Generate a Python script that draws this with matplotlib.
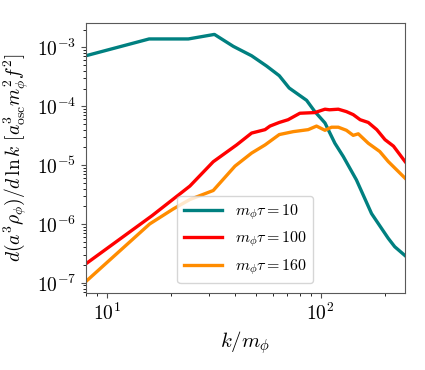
import numpy as np
import matplotlib
matplotlib.use('Agg')
import matplotlib.pyplot as plt

plt.rcParams['mathtext.fontset'] = 'cm'
plt.rcParams['font.family'] = 'serif'
plt.rcParams['font.serif'] = ['cmr10', 'DejaVu Serif']
plt.rcParams['axes.formatter.use_mathtext'] = True

# data
k_10 = [8.0, 15.8, 24.1, 31.9, 39.1, 47.6, 56, 64.1, 71.3, 86, 94, 104.8,
        116.6, 127.6, 147, 173, 207, 222, 248]
rho_10 = [7.2e-4, 1.39e-3, 1.39e-3, 1.66e-3, 1.04e-3, 7.2e-4, 4.8e-4, 3.3e-4,
          2.04e-4, 1.26e-4, 8.1e-5, 5.2e-5, 2.35e-5, 1.4e-5, 5.6e-6, 1.5e-6,
          5.7e-7, 4.1e-7, 2.9e-7]

k_100 = [8.0, 16.3, 24.5, 31.5, 40.5, 47.6, 55, 58, 64.1, 70.5, 80, 94, 104.8,
         110, 121, 132, 142, 153, 167, 183, 200, 219, 248]
rho_100 = [2.1e-7, 1.38e-6, 4.4e-6, 1.14e-5, 2.2e-5, 3.5e-5, 4.0e-5, 4.6e-5,
           5.3e-5, 5.9e-5, 7.6e-5, 7.8e-5, 8.9e-5, 8.7e-5, 8.9e-5, 8.1e-5,
           7.2e-5, 5.9e-5, 5.3e-5, 4.0e-5, 2.7e-5, 2.1e-5, 1.15e-5]

k_160 = [8.0, 15.9, 20.5, 24.5, 31.5, 39.8, 47.6, 55, 64.1, 74.5, 87.5, 95.7,
         104.8, 112.5, 121, 132, 142, 150, 167, 189, 207, 248]
rho_160 = [1.05e-7, 1.0e-6, 1.8e-6, 2.6e-6, 3.7e-6, 9.6e-6, 1.6e-5, 2.2e-5,
           3.3e-5, 3.7e-5, 4.0e-5, 4.6e-5, 3.9e-5, 4.4e-5, 4.4e-5, 3.9e-5,
           3.2e-5, 3.4e-5, 2.35e-5, 1.7e-5, 1.15e-5, 6.0e-6]

fig = plt.figure(figsize=(4.25, 3.7), dpi=100)
ax = fig.add_axes([0.202, 0.208, 0.751, 0.730])

ax.plot(k_10, rho_10, color='#008080', lw=2.4, label=r'$m_\phi\tau=10$')
ax.plot(k_100, rho_100, color='red', lw=2.4, label=r'$m_\phi\tau=100$')
ax.plot(k_160, rho_160, color='darkorange', lw=2.4, label=r'$m_\phi\tau=160$')

ax.set_xscale('log')
ax.set_yscale('log')
ax.set_xlim(8.0, 248)
ax.set_ylim(6.7e-8, 2.6e-3)

ax.set_xlabel(r'$k/m_\phi$', fontsize=15)
ax.set_ylabel(r'$d(a^3\rho_\phi)/d\,\ln k\ [a_{\rm osc}^3 m_\phi^2 f^2]$', fontsize=14)
ax.tick_params(labelsize=14, colors='0.3', labelcolor='black')
for s in ax.spines.values():
    s.set_color('0.35')

ax.legend(loc='lower center', fontsize=11.5, handlelength=2.4,
          borderaxespad=0.6)

fig.savefig('out.png', dpi=100)
